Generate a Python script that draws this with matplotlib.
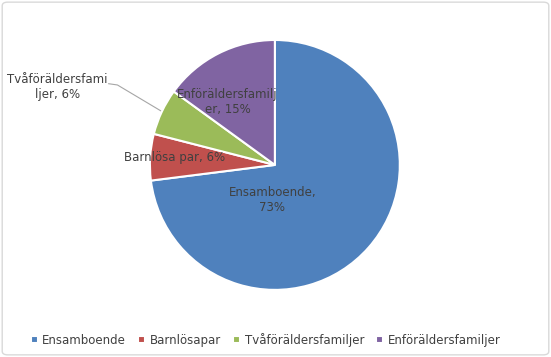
import numpy as np
import matplotlib.pyplot as plt
from matplotlib.patches import FancyBboxPatch

# data
categories = ['Ensamboende', 'Barnlösapar', 'Tvåföräldersfamiljer', 'Enföräldersfamiljer']
values = [73, 6, 6, 15]
slice_labels = ['Ensamboende,\n73%', 'Barnlösa par, 6%', 'Tvåföräldersfami\nljer, 6%', 'Enföräldersfamilj\ner, 15%']
colors = ['#4F81BD', '#C0504D', '#9BBB59', '#8064A2']

# label positions in units of the pie radius
label_pos = [(-0.02, -0.28), (-0.80, 0.06), (-1.74, 0.62), (-0.38, 0.50)]
text_color = '#404040'

fig = plt.figure(figsize=(5.51, 3.57), dpi=100)
ax = fig.add_axes([0.272, 0.188, 0.4537, 0.700])

wedges, _ = ax.pie(values, colors=colors, startangle=90, counterclock=False,
                   radius=1.0, wedgeprops=dict(edgecolor='white', linewidth=1.5))
ax.set_xlim(-1, 1)
ax.set_ylim(-1, 1)
ax.set_aspect('equal')

for i, w in enumerate(wedges):
    x, y = label_pos[i]
    ax.text(x, y, slice_labels[i], ha='center', va='center',
            fontsize=8.5, color=text_color)

# leader line for the small green slice
w = wedges[2]
mid = np.deg2rad((w.theta1 + w.theta2) / 2)
ax.plot([-1.33, -1.26, np.cos(mid) * 0.98], [0.65, 0.64, np.sin(mid) * 0.98],
        color='#A6A6A6', lw=0.8, clip_on=False, zorder=0)

leg = fig.legend(wedges, categories, loc='center', bbox_to_anchor=(0.482, 0.048),
                 ncol=4, frameon=False, fontsize=8.5, handlelength=0.6, handleheight=0.6,
                 handletextpad=0.4, columnspacing=1.0, labelcolor=text_color)

# light border around the chart area
border = FancyBboxPatch((0.004, 0.006), 0.992, 0.988, boxstyle='round,pad=0,rounding_size=0.01',
                        transform=fig.transFigure, facecolor='none', edgecolor='#D9D9D9', lw=1)
fig.patches.append(border)

plt.savefig('out.png', dpi=100)
